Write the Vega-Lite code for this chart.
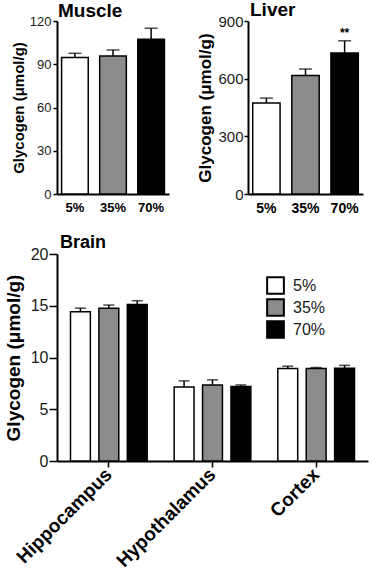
{
  "$schema": "https://vega.github.io/schema/vega-lite/v6.json",
  "padding": {"left": 4, "top": 1, "right": 4, "bottom": 2},
  "config": {
    "font": "Liberation Sans",
    "view": {"stroke": null},
    "axis": {"domainColor": "black", "domainWidth": 2, "tickColor": "black", "tickWidth": 1.5, "labelColor": "#1a1a1a", "titleColor": "black", "titleFontWeight": "bold", "grid": false},
    "title": {"anchor": "start", "frame": "group", "fontWeight": "bold", "color": "black"}
  },
  "spacing": 19,
  "resolve": {"scale": {"fill": "independent"}, "legend": {"fill": "independent"}},
  "vconcat": [
    {
      "spacing": 27,
      "resolve": {"scale": {"fill": "independent"}, "legend": {"fill": "independent"}},
      "hconcat": [
        {
          "title": {"text": "Muscle", "fontSize": 19, "offset": -6, "dx": 1},
          "width": 112,
          "height": 173,
          "data": {"values": [
            {"g": "5%", "v": 94.7, "hi": 97.6},
            {"g": "35%", "v": 95.8, "hi": 99.9},
            {"g": "70%", "v": 107.3, "hi": 115}
          ]},
          "encoding": {
            "x": {"field": "g", "type": "nominal", "sort": ["5%", "35%", "70%"], "title": null,
                  "scale": {"paddingInner": 0.3, "paddingOuter": 0.12},
                  "axis": {"labelAngle": 0, "ticks": false, "labelPadding": 7, "labelFontSize": 13, "labelFontWeight": "bold", "labelColor": "black"}}
          },
          "layer": [
            {"mark": {"type": "rule", "strokeWidth": 1.5, "color": "black"},
             "encoding": {"y": {"field": "v", "type": "quantitative"}, "y2": {"field": "hi"}}},
            {"mark": {"type": "tick", "thickness": 1.5, "size": 13, "orient": "horizontal", "color": "black"},
             "encoding": {"y": {"field": "hi", "type": "quantitative"}}},
            {"mark": {"type": "bar", "stroke": "black", "strokeWidth": 1.5},
             "encoding": {
               "y": {"field": "v", "type": "quantitative", "title": "Glycogen (μmol/g)",
                     "scale": {"domain": [0, 120], "nice": false},
                     "axis": {"values": [0, 30, 60, 90, 120], "tickSize": 4, "labelFontSize": 13, "labelPadding": 2, "titleFontSize": 15, "titlePadding": 3}},
               "fill": {"field": "g", "type": "nominal", "scale": {"domain": ["5%", "35%", "70%"], "range": ["white", "#8c8c8c", "black"]}, "legend": null}
             }}
          ]
        },
        {
          "title": {"text": "Liver", "fontSize": 19, "offset": -6, "dx": 2},
          "width": 115,
          "height": 173,
          "data": {"values": [
            {"g": "5%", "v": 473, "hi": 499, "sig": ""},
            {"g": "35%", "v": 617, "hi": 650, "sig": ""},
            {"g": "70%", "v": 733, "hi": 797, "sig": "**"}
          ]},
          "encoding": {
            "x": {"field": "g", "type": "nominal", "sort": ["5%", "35%", "70%"], "title": null,
                  "scale": {"paddingInner": 0.3, "paddingOuter": 0.12},
                  "axis": {"labelAngle": 0, "ticks": false, "labelPadding": 7, "labelFontSize": 14, "labelFontWeight": "bold", "labelColor": "black"}}
          },
          "layer": [
            {"mark": {"type": "rule", "strokeWidth": 1.5, "color": "black"},
             "encoding": {"y": {"field": "v", "type": "quantitative"}, "y2": {"field": "hi"}}},
            {"mark": {"type": "tick", "thickness": 1.5, "size": 13, "orient": "horizontal", "color": "black"},
             "encoding": {"y": {"field": "hi", "type": "quantitative"}}},
            {"mark": {"type": "bar", "stroke": "black", "strokeWidth": 1.5},
             "encoding": {
               "y": {"field": "v", "type": "quantitative", "title": "Glycogen (μmol/g)",
                     "scale": {"domain": [0, 900], "nice": false},
                     "axis": {"values": [0, 300, 600, 900], "tickSize": 4, "labelFontSize": 15, "labelPadding": 1, "titleFontSize": 17, "titlePadding": 3}},
               "fill": {"field": "g", "type": "nominal", "scale": {"domain": ["5%", "35%", "70%"], "range": ["white", "#8c8c8c", "black"]}, "legend": null}
             }},
            {"mark": {"type": "text", "baseline": "bottom", "dy": -1, "fontSize": 12, "fontWeight": "bold", "color": "black"},
             "encoding": {"y": {"field": "hi", "type": "quantitative"}, "text": {"field": "sig"}}}
          ]
        }
      ]
    },
    {
      "title": {"text": "Brain", "fontSize": 18, "offset": -6, "dx": 3},
      "width": 311,
      "height": 207,
      "data": {"values": [
        {"region": "Hippocampus", "diet": "5%", "v": 14.42, "hi": 14.77},
        {"region": "Hippocampus", "diet": "35%", "v": 14.75, "hi": 15.07},
        {"region": "Hippocampus", "diet": "70%", "v": 15.13, "hi": 15.48},
        {"region": "Hypothalamus", "diet": "5%", "v": 7.16, "hi": 7.74},
        {"region": "Hypothalamus", "diet": "35%", "v": 7.35, "hi": 7.84},
        {"region": "Hypothalamus", "diet": "70%", "v": 7.2, "hi": 7.35},
        {"region": "Cortex", "diet": "5%", "v": 8.94, "hi": 9.16},
        {"region": "Cortex", "diet": "35%", "v": 8.94, "hi": 9.03},
        {"region": "Cortex", "diet": "70%", "v": 8.97, "hi": 9.24}
      ]},
      "encoding": {
        "x": {"field": "region", "type": "nominal", "sort": ["Hippocampus", "Hypothalamus", "Cortex"], "title": null,
              "scale": {"paddingInner": 0, "paddingOuter": 0},
              "axis": {"labelAngle": -45, "labelAlign": "right", "labelBaseline": "middle", "tickSize": 6, "labelPadding": 4, "labelFontSize": 19, "labelFontWeight": "bold", "labelColor": "black"}},
        "xOffset": {"field": "diet", "type": "nominal", "sort": ["5%", "35%", "70%"], "scale": {"paddingInner": 0.3, "paddingOuter": 0.475}}
      },
      "layer": [
        {"mark": {"type": "rule", "strokeWidth": 1.5, "color": "black"},
         "encoding": {"y": {"field": "v", "type": "quantitative"}, "y2": {"field": "hi"}}},
        {"mark": {"type": "tick", "thickness": 1.5, "size": 11, "orient": "horizontal", "color": "black"},
         "encoding": {"y": {"field": "hi", "type": "quantitative"}}},
        {"mark": {"type": "bar", "stroke": "black", "strokeWidth": 1.5},
         "encoding": {
           "y": {"field": "v", "type": "quantitative", "title": "Glycogen (μmol/g)",
                 "scale": {"domain": [0, 20], "nice": false},
                 "axis": {"values": [0, 5, 10, 15, 20], "tickSize": 8, "labelFontSize": 16, "labelPadding": 1, "titleFontSize": 19, "titlePadding": 7}},
           "fill": {"field": "diet", "type": "nominal", "title": null,
                    "scale": {"domain": ["5%", "35%", "70%"], "range": ["white", "#8c8c8c", "black"]},
                    "legend": {"orient": "none", "legendX": 209, "legendY": 22, "symbolType": "square", "symbolSize": 280, "symbolStrokeColor": "black", "symbolStrokeWidth": 2, "symbolOpacity": 1, "labelFontSize": 16, "labelColor": "#1a1a1a", "rowPadding": -11, "labelOffset": 8}}
         }}
      ]
    }
  ]
}
